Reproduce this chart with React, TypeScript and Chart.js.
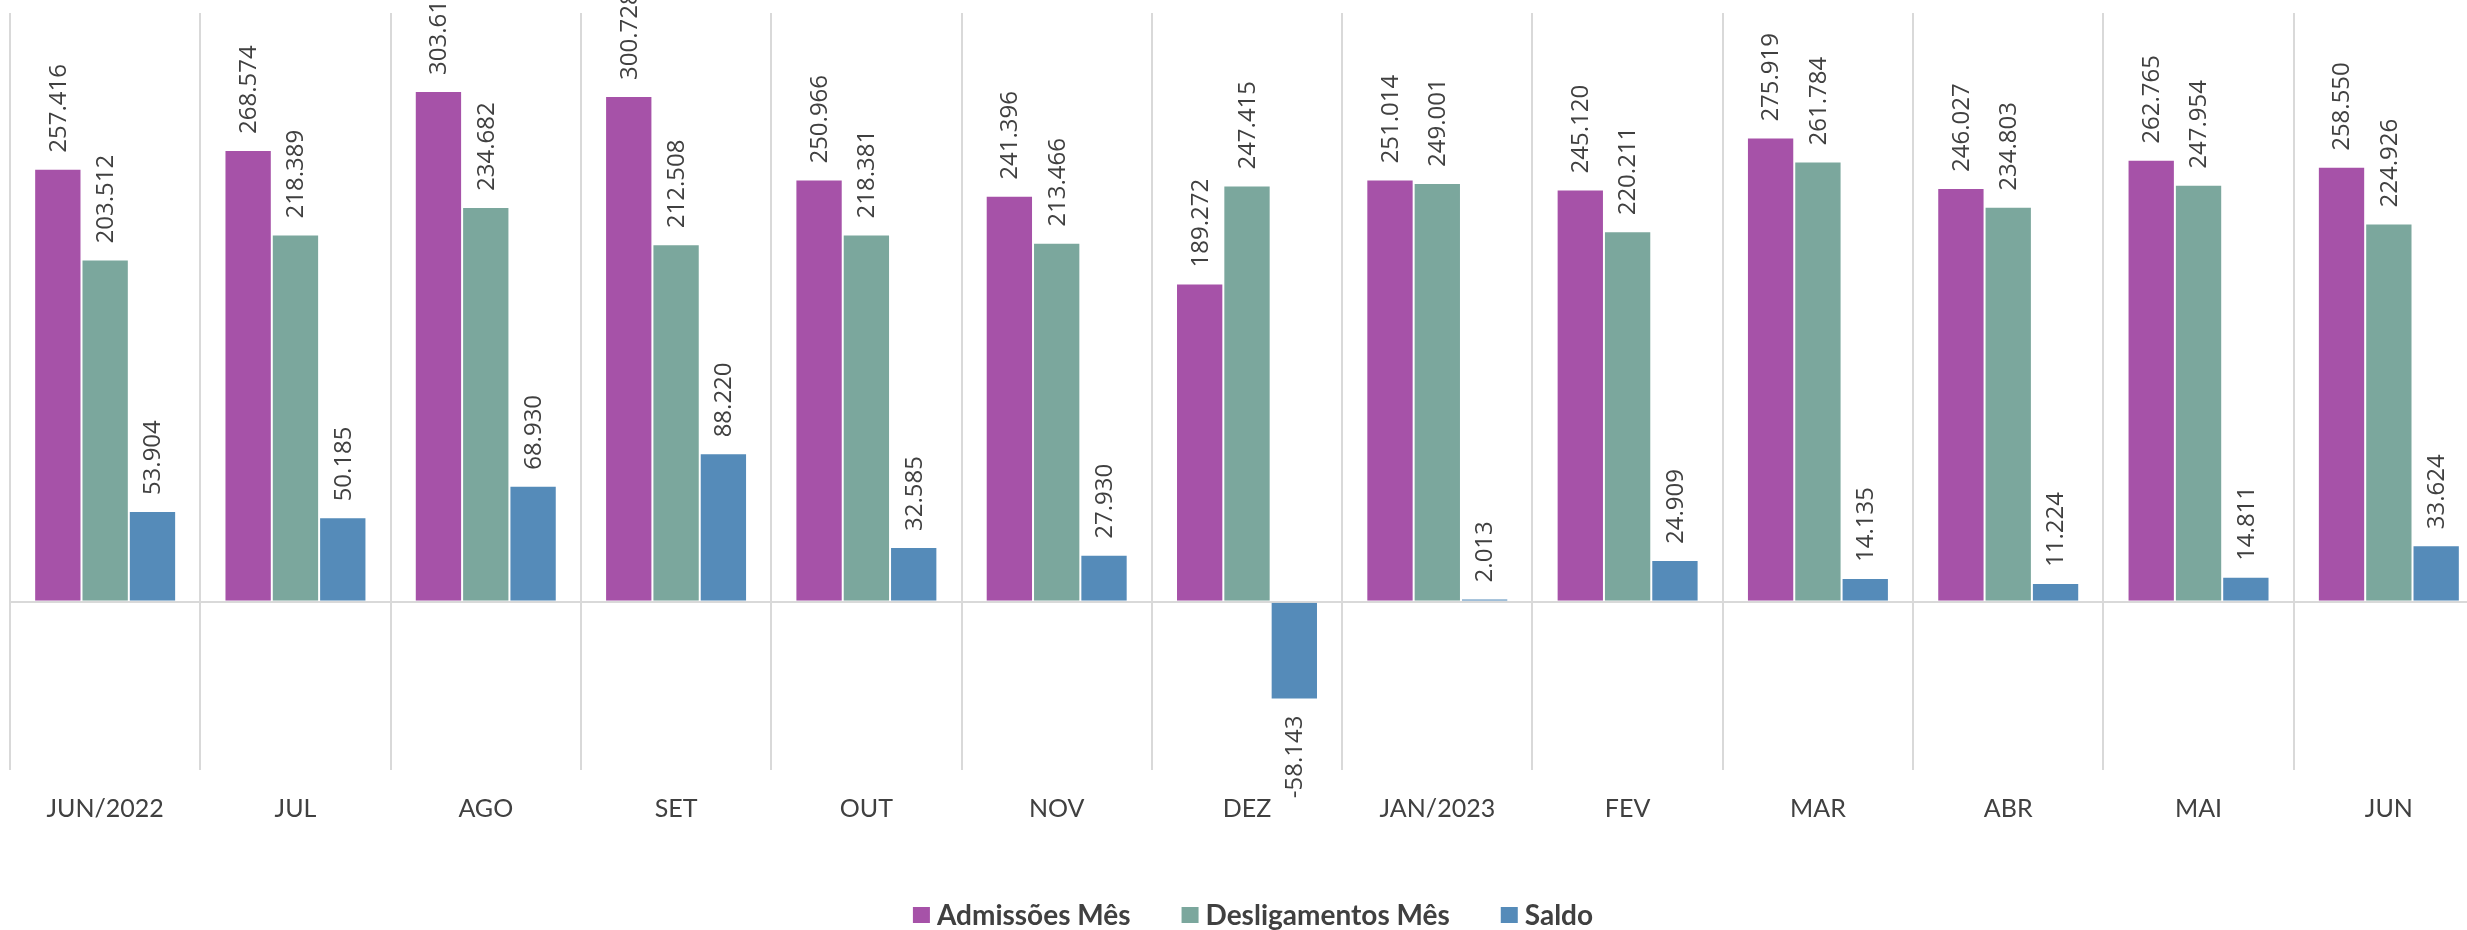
import React, { useEffect, useRef } from "react";
import { Chart, registerables } from "chart.js";

Chart.register(...registerables);

const categories = ["JUN/2022", "JUL", "AGO", "SET", "OUT", "NOV", "DEZ", "JAN/2023", "FEV", "MAR", "ABR", "MAI", "JUN"];
const admissoes = [257416, 268574, 303612, 300728, 250966, 241396, 189272, 251014, 245120, 275919, 246027, 262765, 258550];
const desligamentos = [203512, 218389, 234682, 212508, 218381, 213466, 247415, 249001, 220211, 261784, 234803, 247954, 224926];
const saldo = [53904, 50185, 68930, 88220, 32585, 27930, -58143, 2013, 24909, 14135, 11224, 14811, 33624];
const seriesNames = ["Admissões Mês", "Desligamentos Mês", "Saldo"];
const seriesColors = ["#A652A8", "#7BA79D", "#558BB9"];

const W = 2490;
const H = 930;

function fmt(v: number): string {
  const s = Math.abs(v).toString().replace(/\B(?=(\d{3})+(?!\d))/g, ".");
  return (v < 0 ? "-" : "") + s;
}

const labelPlugin = {
  id: "barLabels",
  afterDatasetsDraw(chart: any) {
    const ctx = chart.ctx;
    ctx.save();
    ctx.font = "24px 'Open Sans'";
    ctx.fillStyle = "#404040";
    ctx.textBaseline = "middle";
    chart.data.datasets.forEach((ds: any, di: number) => {
      const meta = chart.getDatasetMeta(di);
      meta.data.forEach((el: any, i: number) => {
        const v = ds.data[i] as number;
        ctx.save();
        if (v >= 0) {
          ctx.translate(el.x + 1, el.y - 16);
          ctx.rotate(-Math.PI / 2);
          ctx.textAlign = "left";
        } else {
          ctx.translate(el.x + 1, el.y + 16);
          ctx.rotate(-Math.PI / 2);
          ctx.textAlign = "right";
        }
        ctx.fillText(fmt(v), 0, 0);
        ctx.restore();
      });
    });
    ctx.restore();
  },
};

const legendPlugin = {
  id: "customLegend",
  afterDraw(chart: any) {
    const ctx = chart.ctx;
    ctx.save();
    ctx.font = "bold 28px Lato";
    const box = 17;
    const boxGap = 7;
    const itemGap = 51;
    const items = chart.data.datasets.map((ds: any) => ({
      text: ds.label as string,
      color: ds.backgroundColor as string,
      w: ctx.measureText(ds.label).width,
    }));
    const total = items.reduce((a: number, it: any) => a + box + boxGap + it.w, 0) + itemGap * (items.length - 1);
    let x = 1253 - total / 2;
    const yc = 915;
    ctx.textBaseline = "middle";
    ctx.textAlign = "left";
    items.forEach((it: any) => {
      ctx.fillStyle = it.color;
      ctx.fillRect(x, yc - 8, box, 16);
      x += box + boxGap;
      ctx.fillStyle = "#404040";
      ctx.fillText(it.text, x, yc + 1);
      x += it.w + itemGap;
    });
    ctx.restore();
  },
};

export default function App() {
  const ref = useRef<HTMLCanvasElement>(null);
  useEffect(() => {
    if (!ref.current) return;
    const data = [admissoes, desligamentos, saldo];
    const chart = new Chart(ref.current, {
      type: "bar",
      data: {
        labels: categories,
        datasets: data.map((d, i) => ({
          label: seriesNames[i],
          data: d,
          backgroundColor: seriesColors[i],
          borderColor: "rgba(255,255,255,0.35)",
          borderWidth: 1,
          barPercentage: 1,
          categoryPercentage: 0.746,
        })),
      },
      options: {
        animation: false,
        responsive: false,
        devicePixelRatio: 1,
        layout: { padding: { left: 10, right: 6, top: 13, bottom: 82 } },
        plugins: { legend: { display: false }, tooltip: { enabled: false } },
        scales: {
          x: {
            grid: { color: "#D9D9D9", lineWidth: 2, drawTicks: false, offset: true },
            border: { display: false },
            ticks: { font: { family: "Lato", size: 25 }, color: "#404040", padding: 24, maxRotation: 0, autoSkip: false },
          },
          y: {
            min: -100000,
            max: 350000,
            ticks: { display: false, stepSize: 50000 },
            border: { display: false },
            grid: {
              drawTicks: false,
              lineWidth: 2,
              color: (c: any) => (c.tick && c.tick.value === 0 ? "#D9D9D9" : "rgba(0,0,0,0)"),
            },
          },
        },
      },
      plugins: [labelPlugin, legendPlugin],
    });
    return () => chart.destroy();
  }, []);
  return (
    <div style={{ position: "fixed", left: 0, top: 0, width: "100vw", height: "100vh", overflow: "hidden", background: "#fff" }}>
      <canvas ref={ref} width={W} height={H} style={{ width: W, height: H, display: "block" }} />
    </div>
  );
}
